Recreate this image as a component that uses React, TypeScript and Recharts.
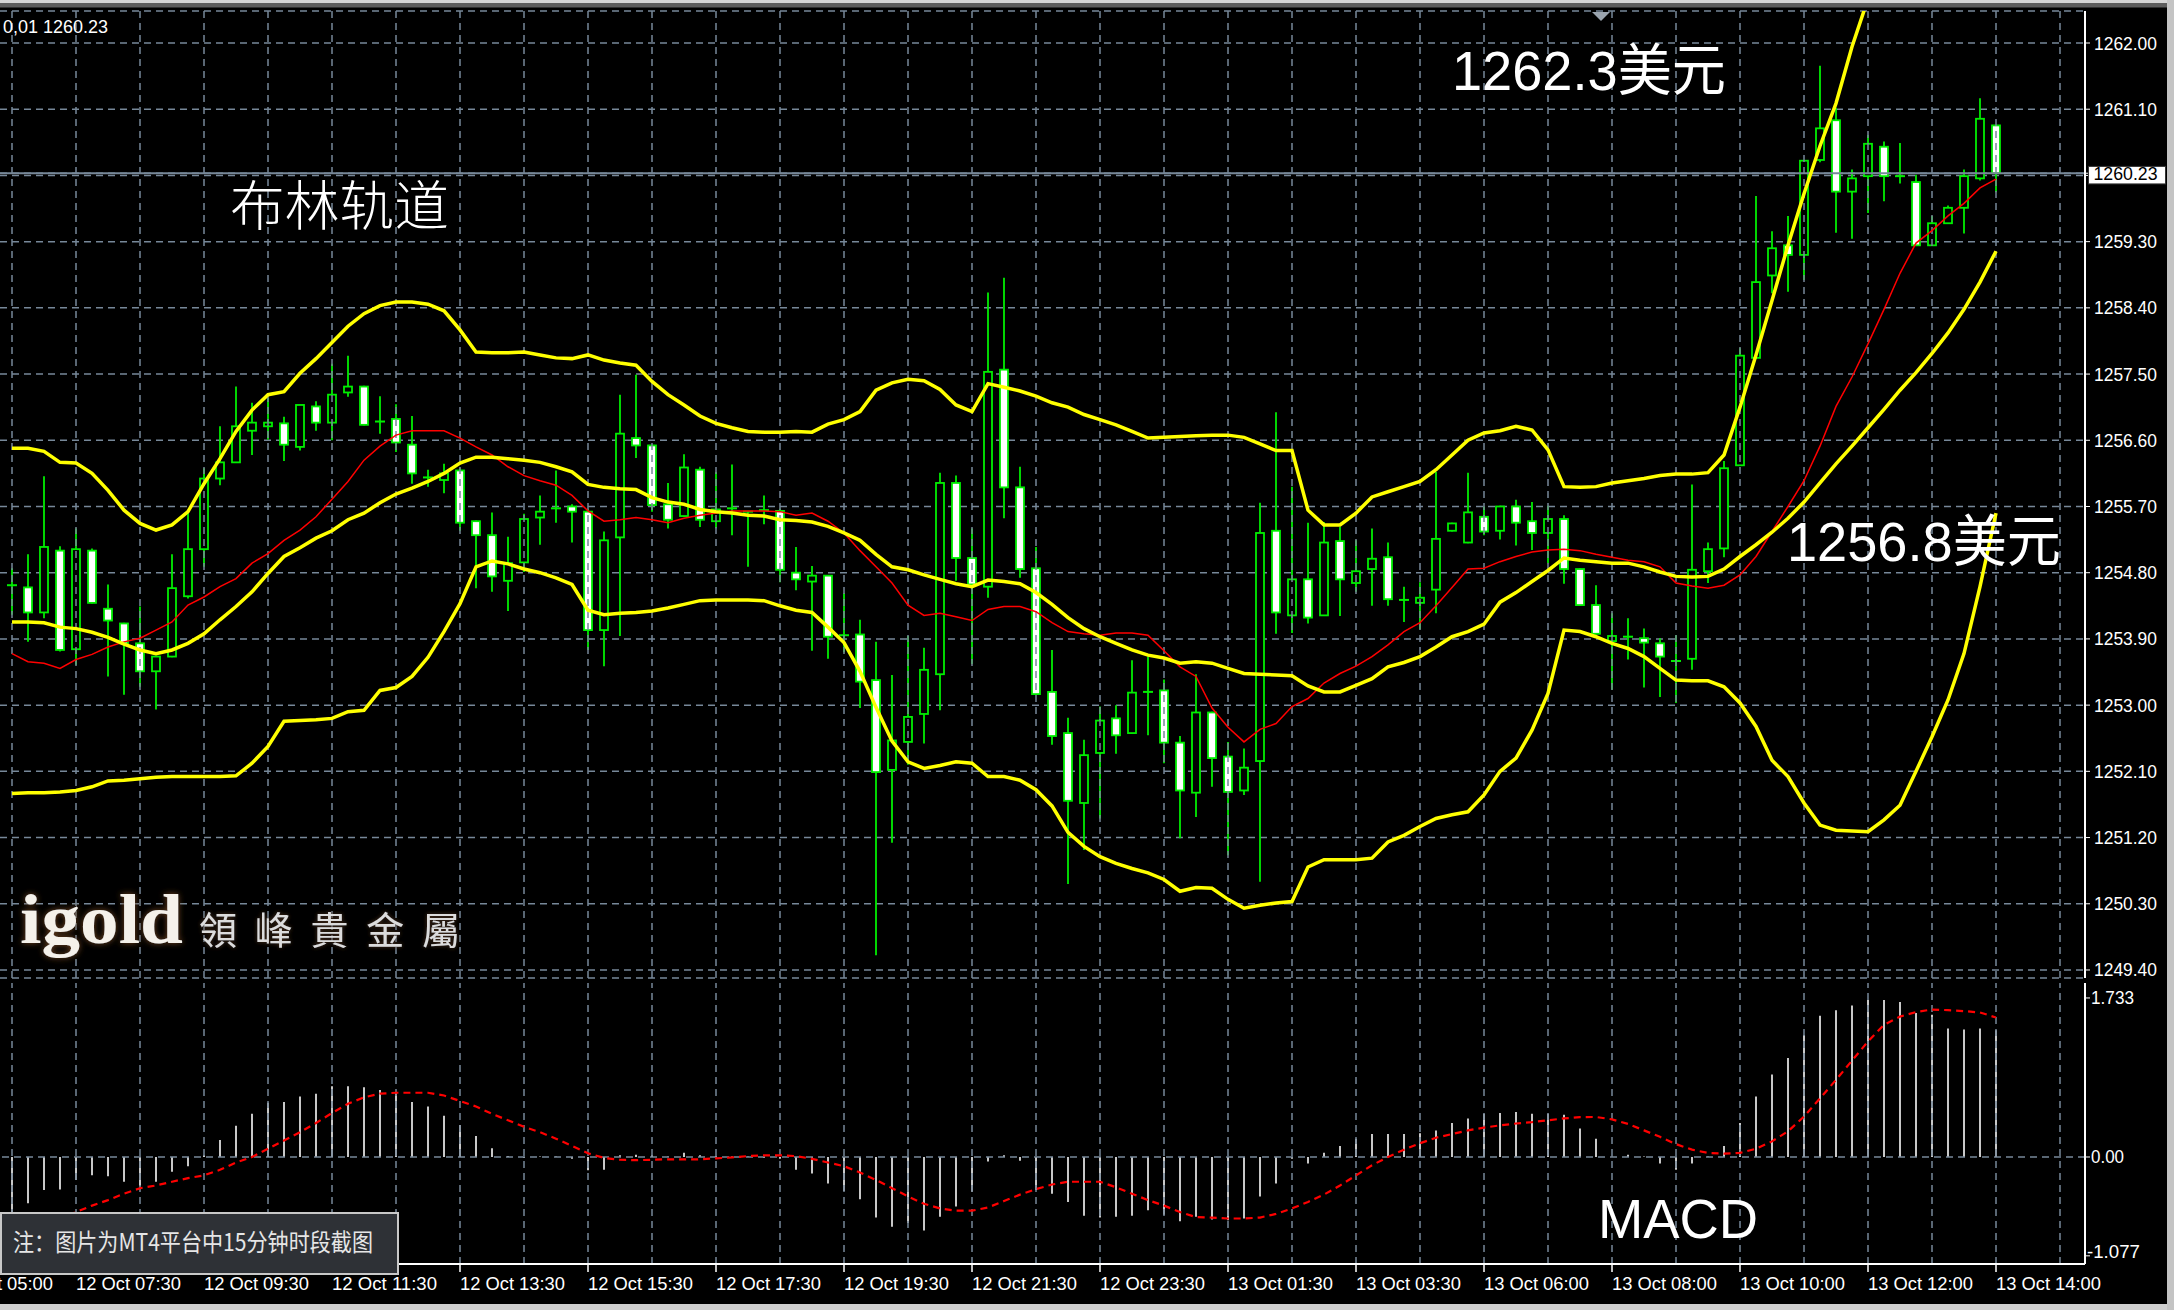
import React from 'react';
import { ComposedChart, Bar, Line, XAxis, YAxis, CartesianGrid, ReferenceLine } from 'recharts';

const W = 2174;
const H = 1310;
const GREEN = '#00ee00';
const GRID = '#778899';
const LABEL_FONT = "'Liberation Sans', Arial, sans-serif";
const CJK_FONT = "'Liberation Sans', 'Noto Sans CJK SC', sans-serif";

// ---------------- data ----------------
const barIndex = Array.from({ length: 125 }, (_, k) => k);

const opens = [1254.62,1254.60,1254.26,1255.10,1253.76,1255.10,1254.31,1254.11,1253.84,1253.46,
1253.66,1254.48,1255.12,1256.08,1256.30,1256.73,1256.79,1256.83,1256.51,1257.06,
1256.84,1257.25,1257.33,1256.85,1256.89,1256.54,1256.10,1256.06,1256.19,1255.50,
1255.31,1254.69,1254.94,1255.55,1255.67,1255.70,1255.63,1254.02,1255.28,1256.63,
1256.53,1255.73,1255.57,1256.20,1255.50,1255.68,1255.63,1255.65,1255.64,1254.80,
1254.68,1254.76,1253.95,1253.96,1253.34,1252.12,1252.50,1252.88,1253.42,1256.02,
1255.00,1254.61,1257.56,1255.96,1254.86,1253.18,1252.62,1251.67,1252.35,1252.82,
1252.62,1253.18,1253.20,1252.49,1251.81,1252.90,1252.30,1251.84,1252.24,1255.37,
1254.22,1254.71,1254.22,1255.23,1254.66,1254.85,1255.01,1254.43,1254.39,1254.57,
1255.37,1255.21,1255.56,1255.37,1255.70,1255.50,1255.34,1255.53,1254.85,1254.36,
1253.87,1253.93,1253.91,1253.84,1253.60,1253.63,1254.82,1255.13,1256.26,1257.72,
1258.84,1259.25,1259.12,1260.41,1260.95,1259.98,1260.19,1260.59,1260.19,1260.11,
1259.25,1259.55,1259.76,1260.16,1260.88];

const highs = [1254.86,1255.05,1256.11,1255.16,1255.40,1255.13,1254.64,1254.12,1254.34,1253.67,
1255.05,1255.61,1256.22,1256.79,1257.33,1257.11,1257.17,1256.92,1257.08,1257.13,
1257.64,1257.75,1257.34,1257.20,1257.09,1256.93,1256.20,1256.28,1256.22,1255.51,
1255.62,1255.29,1255.60,1255.85,1256.19,1255.73,1255.67,1255.36,1257.22,1257.49,
1256.54,1256.02,1256.41,1256.24,1256.17,1256.27,1255.64,1255.85,1255.67,1255.15,
1254.89,1254.77,1254.52,1254.16,1253.86,1253.41,1253.94,1253.78,1256.16,1256.12,
1255.40,1258.61,1258.81,1256.24,1255.15,1253.75,1252.83,1252.53,1252.98,1253.00,
1253.61,1253.66,1253.35,1252.58,1253.42,1252.91,1252.50,1252.41,1255.75,1256.98,
1255.97,1255.48,1255.49,1255.42,1255.24,1255.40,1255.21,1254.61,1254.67,1256.17,
1255.48,1256.16,1255.70,1255.71,1255.79,1255.76,1255.71,1255.58,1254.86,1254.63,
1254.25,1254.18,1254.04,1253.91,1253.95,1256.00,1255.21,1256.32,1257.85,1259.92,
1259.44,1259.65,1260.41,1261.69,1261.12,1260.28,1260.75,1260.66,1260.64,1260.21,
1259.65,1259.79,1260.28,1261.25,1260.89];

const lows = [1254.23,1253.86,1254.18,1253.73,1253.55,1254.38,1253.39,1253.14,1253.25,1252.94,
1253.65,1254.45,1254.88,1255.99,1256.29,1256.40,1256.61,1256.32,1256.46,1256.73,
1256.60,1257.19,1256.80,1256.69,1256.44,1256.01,1255.97,1255.88,1255.37,1254.59,
1254.54,1254.28,1254.81,1255.18,1255.48,1255.21,1253.75,1253.53,1253.94,1256.36,
1255.63,1255.40,1255.56,1255.42,1255.40,1255.31,1254.88,1255.46,1254.67,1254.56,
1253.74,1253.63,1253.72,1252.96,1249.60,1251.13,1252.19,1252.48,1252.93,1254.69,
1253.56,1254.46,1255.54,1254.73,1253.14,1252.46,1250.57,1251.03,1251.46,1252.34,
1252.61,1252.59,1252.21,1251.19,1251.48,1251.89,1250.96,1251.78,1250.60,1253.97,
1253.98,1254.11,1254.21,1254.21,1254.54,1254.35,1254.35,1254.13,1254.03,1254.25,
1255.36,1255.20,1255.31,1255.25,1255.17,1255.11,1254.93,1254.65,1254.35,1253.96,
1253.21,1253.62,1253.24,1253.11,1253.03,1253.48,1254.66,1255.01,1256.25,1257.71,
1258.60,1258.62,1258.78,1260.38,1259.42,1259.34,1259.69,1259.85,1260.09,1259.24,
1259.24,1259.54,1259.41,1260.13,1259.97];

const closes = [1254.64,1254.26,1255.15,1253.75,1255.12,1254.39,1254.15,1253.84,1253.46,1253.66,
1254.59,1255.12,1256.08,1256.30,1256.79,1256.84,1256.84,1256.54,1257.08,1256.84,
1257.22,1257.33,1256.81,1256.86,1256.57,1256.15,1256.09,1256.15,1255.48,1255.31,
1254.75,1254.93,1255.53,1255.63,1255.68,1255.63,1254.02,1255.24,1256.69,1256.53,
1255.72,1255.52,1256.23,1255.52,1255.66,1255.67,1255.63,1255.65,1254.84,1254.71,
1254.76,1253.93,1253.95,1253.32,1252.09,1252.52,1252.84,1253.48,1256.02,1255.00,
1254.64,1257.53,1255.96,1254.85,1253.15,1252.58,1251.70,1252.32,1252.79,1252.59,
1253.17,1253.18,1252.49,1251.84,1252.90,1252.28,1251.82,1252.15,1255.34,1254.26,
1254.71,1254.19,1255.21,1254.71,1254.82,1254.99,1254.44,1254.43,1254.46,1255.26,
1255.47,1255.62,1255.36,1255.70,1255.48,1255.34,1255.53,1254.85,1254.36,1253.97,
1253.94,1253.93,1253.85,1253.66,1253.60,1254.84,1255.12,1256.22,1257.75,1258.75,
1259.21,1259.12,1260.40,1260.84,1259.98,1260.16,1260.63,1260.19,1260.19,1259.25,
1259.55,1259.76,1260.19,1260.97,1260.23];

const bbUpper = [1256.49,1256.49,1256.45,1256.30,1256.29,1256.15,1255.92,1255.65,1255.47,1255.38,
1255.45,1255.63,1256.01,1256.35,1256.72,1257.01,1257.22,1257.26,1257.51,1257.71,
1257.93,1258.15,1258.32,1258.43,1258.48,1258.48,1258.45,1258.36,1258.10,1257.80,
1257.79,1257.79,1257.80,1257.76,1257.72,1257.71,1257.76,1257.69,1257.65,1257.62,
1257.40,1257.22,1257.08,1256.93,1256.83,1256.77,1256.72,1256.71,1256.71,1256.72,
1256.71,1256.82,1256.88,1256.99,1257.28,1257.38,1257.43,1257.41,1257.29,1257.08,
1256.99,1257.37,1257.32,1257.27,1257.20,1257.11,1257.05,1256.95,1256.88,1256.81,
1256.72,1256.63,1256.64,1256.65,1256.66,1256.67,1256.67,1256.64,1256.55,1256.46,
1256.46,1255.65,1255.45,1255.45,1255.61,1255.83,1255.90,1255.97,1256.04,1256.20,
1256.40,1256.60,1256.70,1256.73,1256.79,1256.74,1256.47,1255.97,1255.96,1255.97,
1256.02,1256.05,1256.08,1256.12,1256.14,1256.14,1256.16,1256.40,1257.05,1257.76,
1258.50,1259.25,1259.95,1260.60,1261.18,1261.95,1262.60,1263.05,1263.35,1263.55,
1263.70,1263.80,1263.85,1263.95,1264.00];

const bbMiddle = [1254.13,1254.13,1254.12,1254.06,1254.04,1253.99,1253.92,1253.83,1253.75,1253.70,
1253.75,1253.84,1253.97,1254.16,1254.34,1254.54,1254.79,1255.02,1255.14,1255.27,
1255.37,1255.52,1255.61,1255.75,1255.87,1255.95,1256.04,1256.15,1256.29,1256.37,
1256.37,1256.35,1256.33,1256.30,1256.24,1256.17,1256.00,1255.96,1255.94,1255.93,
1255.82,1255.76,1255.73,1255.66,1255.63,1255.61,1255.58,1255.57,1255.52,1255.51,
1255.49,1255.43,1255.34,1255.24,1255.05,1254.88,1254.84,1254.77,1254.71,1254.65,
1254.61,1254.70,1254.68,1254.65,1254.53,1254.37,1254.19,1254.04,1253.93,1253.84,
1253.75,1253.68,1253.64,1253.57,1253.59,1253.57,1253.50,1253.43,1253.42,1253.41,
1253.40,1253.26,1253.18,1253.18,1253.27,1253.36,1253.52,1253.58,1253.66,1253.79,
1253.93,1254.00,1254.10,1254.40,1254.53,1254.68,1254.83,1255.00,1254.97,1254.95,
1254.93,1254.93,1254.88,1254.81,1254.75,1254.74,1254.75,1254.85,1255.02,1255.18,
1255.35,1255.54,1255.76,1256.02,1256.28,1256.52,1256.77,1257.02,1257.28,1257.52,
1257.78,1258.06,1258.38,1258.75,1259.17];

const bbLower = [1251.80,1251.81,1251.81,1251.82,1251.84,1251.89,1251.97,1251.98,1252.00,1252.02,
1252.03,1252.03,1252.03,1252.03,1252.04,1252.21,1252.44,1252.78,1252.79,1252.80,
1252.82,1252.91,1252.93,1253.20,1253.24,1253.39,1253.65,1254.00,1254.38,1254.88,
1254.96,1254.92,1254.85,1254.80,1254.73,1254.64,1254.29,1254.23,1254.25,1254.26,
1254.28,1254.32,1254.37,1254.42,1254.43,1254.43,1254.43,1254.42,1254.35,1254.29,
1254.26,1254.06,1253.85,1253.46,1252.97,1252.51,1252.23,1252.14,1252.18,1252.23,
1252.21,1252.03,1252.03,1251.98,1251.85,1251.63,1251.27,1251.08,1250.94,1250.85,
1250.78,1250.72,1250.63,1250.47,1250.52,1250.51,1250.36,1250.24,1250.28,1250.31,
1250.33,1250.80,1250.90,1250.90,1250.90,1250.92,1251.14,1251.23,1251.35,1251.46,
1251.51,1251.55,1251.78,1252.10,1252.28,1252.66,1253.16,1254.02,1254.00,1253.93,
1253.84,1253.77,1253.66,1253.50,1253.34,1253.33,1253.33,1253.25,1253.03,1252.71,
1252.25,1252.03,1251.67,1251.37,1251.30,1251.29,1251.28,1251.44,1251.64,1252.10,
1252.57,1253.07,1253.70,1254.61,1255.61];

const maRed = [1253.70,1253.59,1253.57,1253.50,1253.62,1253.69,1253.79,1253.86,1253.91,1254.02,
1254.13,1254.36,1254.47,1254.61,1254.72,1254.93,1255.06,1255.24,1255.38,1255.56,
1255.80,1256.04,1256.33,1256.52,1256.67,1256.73,1256.73,1256.73,1256.63,1256.51,
1256.40,1256.24,1256.12,1256.05,1255.99,1255.85,1255.64,1255.50,1255.52,1255.55,
1255.52,1255.48,1255.54,1255.58,1255.61,1255.64,1255.64,1255.64,1255.63,1255.58,
1255.61,1255.50,1255.34,1255.10,1254.88,1254.66,1254.36,1254.22,1254.25,1254.20,
1254.15,1254.30,1254.34,1254.34,1254.27,1254.12,1254.00,1253.97,1253.95,1253.98,
1253.98,1253.95,1253.74,1253.52,1253.39,1252.96,1252.70,1252.50,1252.67,1252.75,
1252.98,1253.09,1253.30,1253.43,1253.53,1253.66,1253.82,1254.00,1254.12,1254.35,
1254.60,1254.85,1254.86,1254.95,1255.02,1255.08,1255.11,1255.12,1255.10,1255.05,
1255.01,1254.97,1254.95,1254.88,1254.66,1254.62,1254.59,1254.63,1254.77,1255.02,
1255.36,1255.70,1256.05,1256.52,1257.06,1257.46,1257.91,1258.38,1258.87,1259.28,
1259.45,1259.65,1259.82,1260.03,1260.15];

const macdHist = [-0.66,-0.505,-0.36,-0.355,-0.25,-0.20,-0.21,-0.27,-0.32,-0.27,
-0.16,-0.10,0.02,0.185,0.34,0.47,0.59,0.60,0.66,0.69,
0.77,0.77,0.76,0.73,0.70,0.60,0.55,0.45,0.35,0.23,
0.095,0.01,-0.01,0.005,0.005,-0.02,-0.145,-0.14,0.02,0.025,
0.02,0.005,0.045,0.02,0.01,0.005,0.005,-0.01,-0.02,-0.14,
-0.18,-0.29,-0.37,-0.46,-0.66,-0.76,-0.72,-0.80,-0.65,-0.54,
-0.38,-0.05,0.02,-0.04,-0.36,-0.40,-0.49,-0.64,-0.66,-0.65,
-0.64,-0.58,-0.63,-0.70,-0.65,-0.68,-0.69,-0.67,-0.43,-0.29,
-0.02,-0.07,0.045,0.12,0.20,0.25,0.25,0.25,0.26,0.29,
0.37,0.42,0.47,0.48,0.49,0.47,0.47,0.46,0.31,0.20,
0.005,0.025,0.005,-0.07,-0.14,-0.07,0.005,0.12,0.37,0.66,
0.90,1.08,1.33,1.54,1.60,1.65,1.71,1.71,1.69,1.57,
1.55,1.40,1.39,1.40,1.38];

const macdSignal = [-0.85,-0.79,-0.73,-0.67,-0.60,-0.53,-0.47,-0.40,-0.34,-0.31,
-0.27,-0.23,-0.20,-0.14,-0.06,0.00,0.09,0.18,0.27,0.37,
0.48,0.58,0.65,0.69,0.70,0.70,0.70,0.67,0.61,0.55,
0.47,0.40,0.33,0.27,0.20,0.12,0.04,-0.01,-0.03,-0.035,
-0.03,-0.025,-0.025,-0.025,-0.015,-0.005,0.01,0.018,0.018,0.01,
-0.02,-0.06,-0.10,-0.17,-0.25,-0.34,-0.43,-0.51,-0.56,-0.585,
-0.585,-0.55,-0.48,-0.41,-0.35,-0.30,-0.27,-0.27,-0.27,-0.33,
-0.40,-0.47,-0.53,-0.60,-0.655,-0.66,-0.67,-0.67,-0.66,-0.62,
-0.56,-0.49,-0.41,-0.31,-0.20,-0.09,0.00,0.08,0.15,0.21,
0.25,0.29,0.32,0.345,0.365,0.38,0.40,0.42,0.435,0.436,
0.41,0.36,0.29,0.22,0.14,0.08,0.045,0.036,0.045,0.09,
0.17,0.28,0.44,0.64,0.84,1.05,1.26,1.44,1.53,1.58,
1.607,1.60,1.59,1.575,1.52];

// axes / ticks
const X_DOMAIN: [number, number] = [-0.75, 129.5625];
const PRICE_DOMAIN: [number, number] = [1249.291, 1262.435];
const MACD_DOMAIN: [number, number] = [-1.166, 1.896];
const gridTicks = [0,4,8,12,16,20,24,28,32,36,40,44,48,52,56,60,64,68,72,76,80,84,88,92,96,100,104,108,112,116,120,124,128];
const priceTicks = [1262.0,1261.1,1260.2,1259.3,1258.4,1257.5,1256.6,1255.7,1254.8,1253.9,1253.0,1252.1,1251.2,1250.3,1249.4];
const lastPrice = 1260.23;
const timeTickIndex = [-4,4,12,20,28,36,44,52,60,68,76,84,92,100,108,116,124];
const timeTickLabels = ['12 Oct 05:00','12 Oct 07:30','12 Oct 09:30','12 Oct 11:30','12 Oct 13:30','12 Oct 15:30','12 Oct 17:30','12 Oct 19:30','12 Oct 21:30','12 Oct 23:30','13 Oct 01:30','13 Oct 03:30','13 Oct 06:00','13 Oct 08:00','13 Oct 10:00','13 Oct 12:00','13 Oct 14:00'];
const macdTicks = [1.733, 0, -1.077];
const macdTickLabels = ['1.733', '0.00', '-1.077'];

const data = barIndex.map((i) => ({
  i,
  open: opens[i],
  high: highs[i],
  low: lows[i],
  close: closes[i],
  upper: bbUpper[i],
  middle: bbMiddle[i],
  lower: bbLower[i],
  ma: maRed[i],
  hist: macdHist[i],
  signal: macdSignal[i],
}));

// ---------------- shapes ----------------
const Candle = (props: any) => {
  const { x, y, width, height, payload } = props;
  if (x == null || y == null || !payload) return null;
  const { open, close, high, low } = payload;
  const cx = x + width / 2;
  const top = Math.min(y, y + height);
  const bottom = Math.max(y, y + height);
  const span = high - low;
  const toY = (p: number) => (span === 0 ? top : top + ((high - p) / span) * (bottom - top));
  const yO = toY(open);
  const yC = toY(close);
  const bTop = Math.min(yO, yC);
  const bBot = Math.max(yO, yC);
  const bull = close > open;
  return (
    <g>
      <line x1={cx} x2={cx} y1={top} y2={bottom} stroke={GREEN} strokeWidth={1.8} />
      {bBot - bTop < 1.5 ? (
        <line x1={cx - 5} x2={cx + 5} y1={(bTop + bBot) / 2} y2={(bTop + bBot) / 2} stroke={GREEN} strokeWidth={2} />
      ) : (
        <rect x={cx - 4} y={bTop} width={8} height={bBot - bTop} fill={bull ? '#000' : '#fff'} stroke={GREEN} strokeWidth={1.8} />
      )}
    </g>
  );
};

const PriceTick = (props: any) => {
  const { x, y, payload } = props;
  const v = payload.value as number;
  if (Math.abs(v - lastPrice) < 1e-6) {
    return (
      <g>
        <rect x={x - 5.5} y={y - 6.8} width={77} height={17.5} fill="#fff" stroke="#333" strokeWidth={1} />
        <text x={x - 0.5} y={y + 7} fill="#000" fontSize={18} fontFamily={LABEL_FONT} textLength={64} lengthAdjust="spacingAndGlyphs">
          {v.toFixed(2)}
        </text>
      </g>
    );
  }
  if (Math.abs(v - 1260.2) < 1e-6) return <g />;
  return (
    <text x={x} y={y + 6.5} fill="#fff" fontSize={18} fontFamily={LABEL_FONT} textLength={63} lengthAdjust="spacingAndGlyphs">
      {v.toFixed(2)}
    </text>
  );
};

const TimeTick = (props: any) => {
  const { x, y, payload } = props;
  const k = timeTickIndex.indexOf(payload.value);
  const label = k >= 0 ? timeTickLabels[k] : '';
  return (
    <text x={x} y={y + 16} fill="#fff" fontSize={18.5} fontFamily={LABEL_FONT} textLength={105} lengthAdjust="spacingAndGlyphs">
      {label}
    </text>
  );
};

const MacdTick = (props: any) => {
  const { x, y, payload } = props;
  const k = macdTicks.indexOf(payload.value);
  if (k < 0) return <g />;
  const widths = [43, 33, 53];
  const dx = [-1, -1, -5];
  const dy = [6, 6.5, 1.7];
  return (
    <text x={x + dx[k]} y={y + dy[k]} fill="#fff" fontSize={18} fontFamily={LABEL_FONT} textLength={widths[k]} lengthAdjust="spacingAndGlyphs">
      {macdTickLabels[k]}
    </text>
  );
};

const WHITE_AXIS = { stroke: '#ffffff', strokeWidth: 2 };

const verticalGrid = (prefix: string) =>
  gridTicks.map((t) => (
    <ReferenceLine key={`${prefix}-${t}`} x={t} stroke={GRID} strokeWidth={1.5} strokeDasharray="7 5" />
  ));

export default function App() {
  return (
    <div style={{ position: 'absolute', left: 0, top: 0, width: W, height: H, background: '#000', overflow: 'hidden' }}>
      {/* main price chart */}
      <div style={{ position: 'absolute', left: 0, top: 0 }}>
        <ComposedChart width={W} height={990} data={data} margin={{ top: 11, right: 0, bottom: 12, left: 0 }}>
          <CartesianGrid vertical={false} stroke={GRID} strokeDasharray="7 5" strokeWidth={1.5} />
          {verticalGrid('m')}
          <XAxis dataKey="i" type="number" domain={X_DOMAIN} ticks={gridTicks} tick={false} tickLine={false} height={0} axisLine={WHITE_AXIS} allowDataOverflow interval={0} />
          <XAxis xAxisId="top" orientation="top" dataKey="i" type="number" domain={X_DOMAIN} tick={false} tickLine={false} height={0} axisLine={WHITE_AXIS} allowDataOverflow />
          <YAxis
            orientation="right"
            type="number"
            domain={PRICE_DOMAIN}
            ticks={[...priceTicks, lastPrice]}
            width={89}
            allowDataOverflow
            interval={0}
            axisLine={WHITE_AXIS}
            tickLine={{ stroke: '#ffffff' }}
            tickSize={5}
            tickMargin={4}
            tick={(p: any) => <PriceTick {...p} />}
          />
          <ReferenceLine y={lastPrice} stroke={GRID} strokeWidth={2} />
          <Bar dataKey={(d: any) => [d.low, d.high]} barSize={10} isAnimationActive={false} shape={(p: any) => <Candle {...p} />} />
          <Line dataKey="ma" type="linear" stroke="#ff0000" strokeWidth={1.5} dot={false} activeDot={false} isAnimationActive={false} />
          <Line dataKey="upper" type="linear" stroke="#ffff00" strokeWidth={3.5} dot={false} activeDot={false} isAnimationActive={false} />
          <Line dataKey="middle" type="linear" stroke="#ffff00" strokeWidth={3.5} dot={false} activeDot={false} isAnimationActive={false} />
          <Line dataKey="lower" type="linear" stroke="#ffff00" strokeWidth={3.5} dot={false} activeDot={false} isAnimationActive={false} />
        </ComposedChart>
      </div>

      {/* MACD sub window */}
      <div style={{ position: 'absolute', left: 0, top: 982 }}>
        <ComposedChart width={W} height={328} data={data} margin={{ top: 1, right: 0, bottom: 0, left: 0 }}>
          {verticalGrid('s')}
          <XAxis
            dataKey="i"
            type="number"
            domain={X_DOMAIN}
            ticks={timeTickIndex}
            interval={0}
            height={46}
            allowDataOverflow
            axisLine={WHITE_AXIS}
            tickLine={{ stroke: '#ffffff', strokeWidth: 1.5 }}
            tickSize={8}
            tickMargin={2}
            tick={(p: any) => <TimeTick {...p} />}
          />
          <XAxis xAxisId="top" orientation="top" dataKey="i" type="number" domain={X_DOMAIN} tick={false} tickLine={false} height={0} axisLine={WHITE_AXIS} allowDataOverflow />
          <YAxis
            orientation="right"
            type="number"
            domain={MACD_DOMAIN}
            ticks={macdTicks}
            width={89}
            allowDataOverflow
            interval={0}
            axisLine={WHITE_AXIS}
            tickLine={{ stroke: '#ffffff' }}
            tickSize={5}
            tickMargin={2}
            tick={(p: any) => <MacdTick {...p} />}
          />
          <ReferenceLine y={0} stroke={GRID} strokeDasharray="7 5" strokeWidth={1.5} />
          <Bar dataKey="hist" barSize={2} fill="#c8c8c8" isAnimationActive={false} />
          <Line dataKey="signal" type="linear" stroke="#ff0000" strokeWidth={2.2} strokeDasharray="7 5" dot={false} activeDot={false} isAnimationActive={false} />
        </ComposedChart>
      </div>

      {/* annotations and window chrome */}
      <svg width={W} height={H} style={{ position: 'absolute', left: 0, top: 0, pointerEvents: 'none' }}>
        <defs>
          <filter id="glow" x="-20%" y="-30%" width="140%" height="160%">
            <feGaussianBlur in="SourceAlpha" stdDeviation="3" result="b" />
            <feFlood floodColor="#7a4a22" floodOpacity="0.95" />
            <feComposite in2="b" operator="in" result="g" />
            <feMerge>
              <feMergeNode in="g" />
              <feMergeNode in="SourceGraphic" />
            </feMerge>
          </filter>
          <filter id="glow2" x="-10%" y="-30%" width="120%" height="160%">
            <feGaussianBlur in="SourceAlpha" stdDeviation="2" result="b" />
            <feFlood floodColor="#5a3a22" floodOpacity="0.9" />
            <feComposite in2="b" operator="in" result="g" />
            <feMerge>
              <feMergeNode in="g" />
              <feMergeNode in="SourceGraphic" />
            </feMerge>
          </filter>
        </defs>
        <rect x={0} y={0} width={W} height={3} fill="#d4d4d4" />
        <rect x={0} y={3} width={W} height={4.5} fill="#5c5c5c" />
        <rect x={0} y={1304} width={W} height={6} fill="#cfcfcf" />
        <rect x={2167} y={0} width={7} height={H} fill="#c4c4c4" />

        <text x={3} y={33} fill="#fff" fontSize={18} fontFamily={LABEL_FONT} textLength={105} lengthAdjust="spacingAndGlyphs">0,01 1260.23</text>
        <polygon points="1592,12 1610,12 1601,21" fill="#9aa4ae" />

        <text x={230} y={226} fill="#fff" fontSize={54} fontWeight={300} fontFamily="'Noto Sans CJK SC', sans-serif" textLength={219} lengthAdjust="spacingAndGlyphs">布林轨道</text>
        <text x={1452} y={90} fill="#fff" fontSize={56} fontFamily={CJK_FONT} textLength={274} lengthAdjust="spacingAndGlyphs">1262.3美元</text>
        <text x={1787} y={561} fill="#fff" fontSize={56} fontFamily={CJK_FONT} textLength={274} lengthAdjust="spacingAndGlyphs">1256.8美元</text>
        <text x={1598} y={1238} fill="#fff" fontSize={56} fontFamily={LABEL_FONT} textLength={160} lengthAdjust="spacingAndGlyphs">MACD</text>

        <text x={20} y={943} fill="#f5f1ea" fontSize={70} fontWeight="bold" fontFamily="'Liberation Serif', 'DejaVu Serif', serif" textLength={163} lengthAdjust="spacingAndGlyphs" filter="url(#glow)">igold</text>
        <text x={199} y={944} fill="#dcdcdc" fontSize={38} fontFamily="'Noto Sans CJK TC', sans-serif" textLength={261} lengthAdjust="spacing" filter="url(#glow2)">領峰貴金屬</text>

        <rect x={1} y={1213} width={397} height={61} fill="#2e3136" stroke="#c8c8c8" strokeWidth={2} />
        <text x={13} y={1251} fill="#e6e6e6" fontSize={24} fontFamily="'Noto Sans CJK SC', sans-serif" textLength={360} lengthAdjust="spacingAndGlyphs">注：图片为MT4平台中15分钟时段截图</text>
      </svg>
    </div>
  );
}
